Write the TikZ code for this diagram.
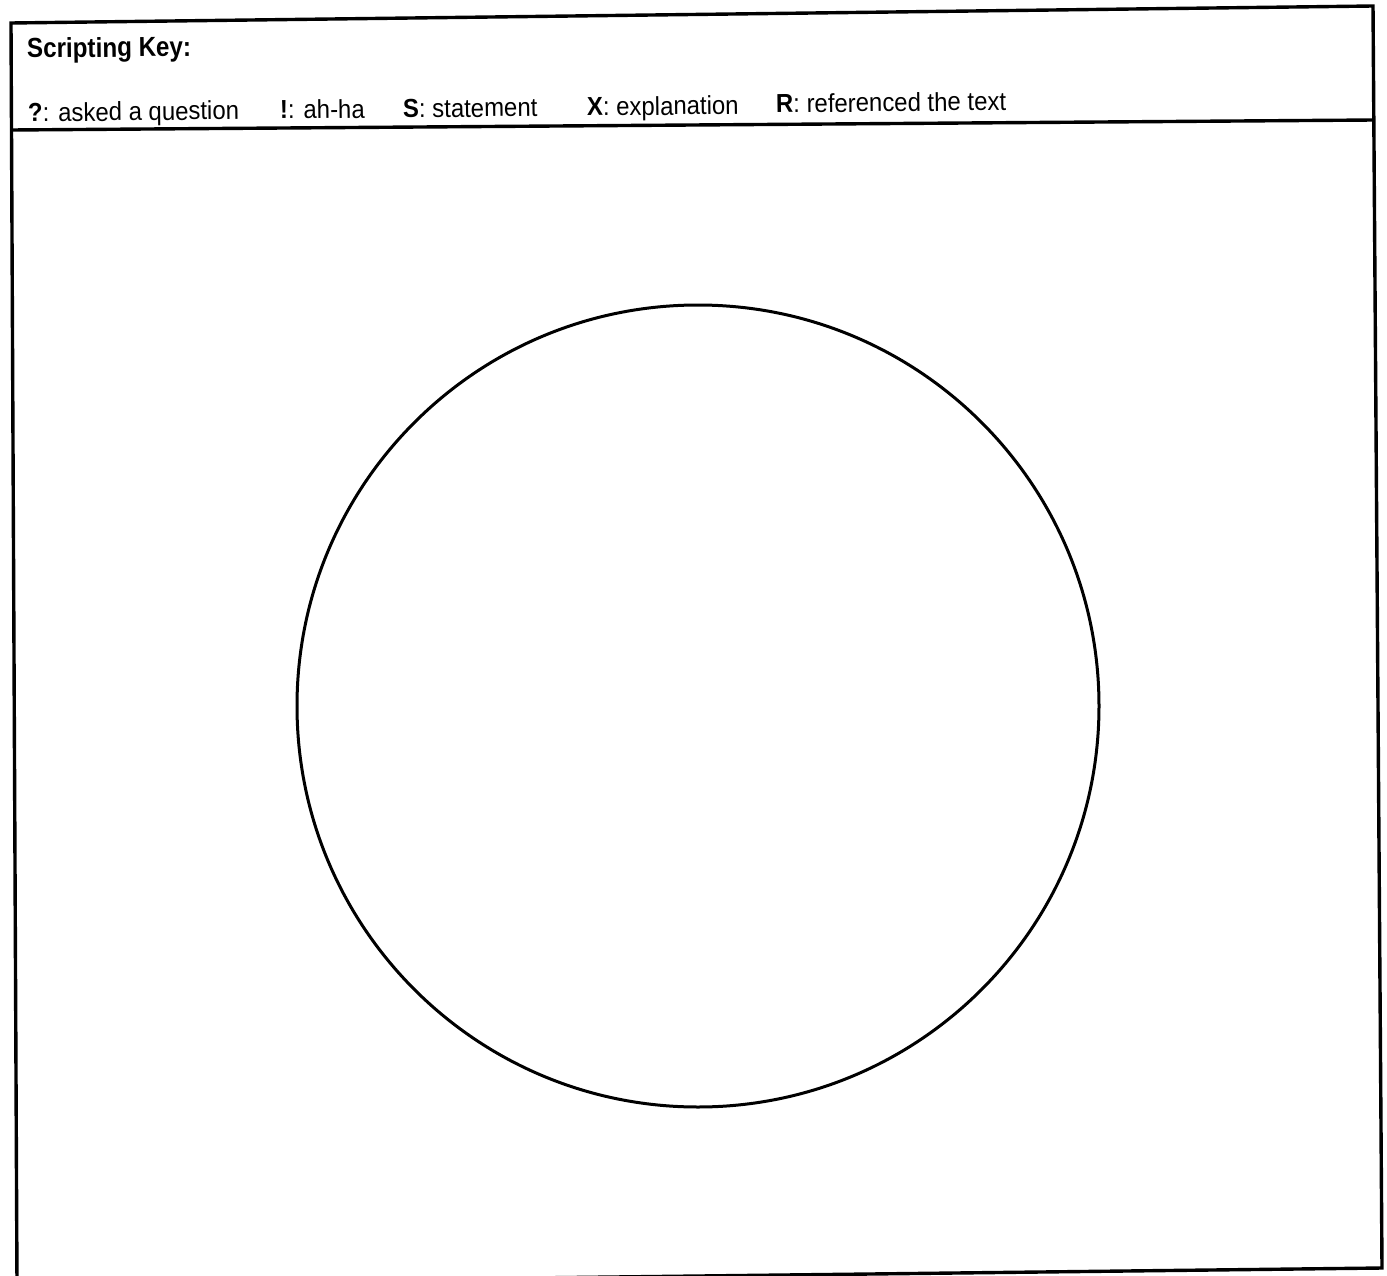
\documentclass[tikz,border=0pt]{standalone}
\usepackage{fontspec}
\setmainfont{Liberation Sans}
\newfontfamily\keyfont[FakeStretch=0.92]{Liberation Sans}
\newfontfamily\titlefont[FakeStretch=0.88]{Liberation Sans}
\tikzset{
  frameline/.style={line width=3.4pt, black},
  ringline/.style={line width=3pt, black},
  keytext/.style={anchor=base west, inner sep=0pt, rotate=0.72, font=\keyfont\fontsize{26}{30}\selectfont},
  titletext/.style={anchor=base west, inner sep=0pt, rotate=0.72, font=\titlefont\bfseries\fontsize{27.5}{32}\selectfont}
}
\begin{document}
\begin{tikzpicture}[x=1pt,y=-1pt]
\useasboundingbox (0,0) rectangle (1387,1276);
\fill[white] (0,0) rectangle (1387,1276);
\begin{scope}
\clip (0,0) rectangle (1387,1276);
% outer frame (slightly skewed scan)
\coordinate (tl) at (11,23);
\coordinate (tr) at (1373,6);
\coordinate (br) at (1382,1268);
\coordinate (bl) at (17,1284);
\coordinate (sl) at (11.5,130);
\coordinate (sr) at (1374,120);
\draw[frameline, line join=miter] (bl) -- (tl) -- (tr) -- (br) -- cycle;
\draw[frameline] (sl) -- (sr);
\end{scope}
% header texts
\node[titletext] (title) at (27,58) {Scripting Key:};
\node[keytext] (kq) at (28,122) {\textbf{?}: asked a question};
\node[keytext] (ka) at (280,119) {\textbf{!}: ah-ha};
\node[keytext] (ks) at (403,118) {\textbf{S}: statement};
\node[keytext] (kx) at (587,116) {\textbf{X}: explanation};
\node[keytext] (kr) at (776,113) {\textbf{R}: referenced the text};
% circle
\node[ringline, draw, circle, minimum size=802pt, inner sep=0pt] (ring) at (698,706) {};
\end{tikzpicture}
\end{document}
